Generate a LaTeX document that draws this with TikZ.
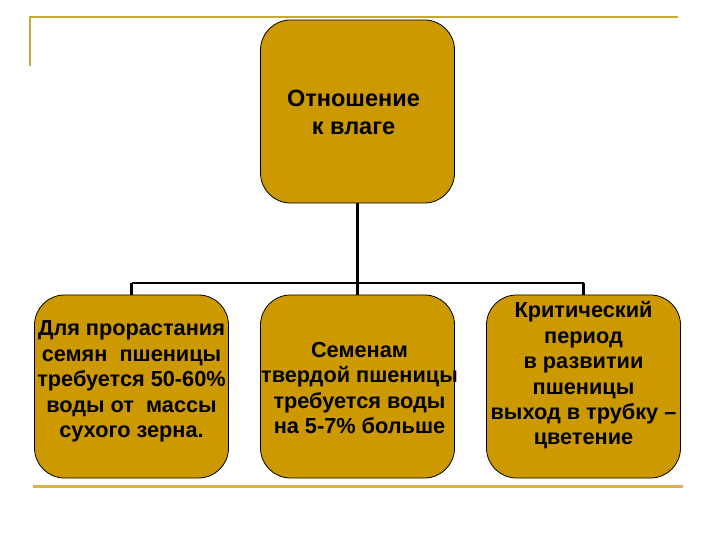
\documentclass[tikz,border=0pt]{standalone}
\usepackage{fontspec}
\setmainfont{Liberation Sans}
\definecolor{boxgold}{HTML}{CC9900}
\definecolor{topline}{HTML}{C4A838}
\definecolor{footline}{HTML}{E0B050}
\begin{document}
\begin{tikzpicture}[x=1bp, y=-1bp,
	box/.style={draw, fill=boxgold, line width=0.8bp, rounded corners=30bp, minimum width=194bp, minimum height=183bp},
	txt/.style={font=\bfseries\fontsize{21.8}{25.5}\selectfont, align=center, inner sep=0pt},
	link/.style={line width=2.2bp}]
		\useasboundingbox (0,0) rectangle (720,540);
		
		%frame lines
		\draw[topline, line width=2bp] (29.5,66) -- (29.5,17.5) -- (678,17.5);
		\draw[footline, line width=3bp] (33,486) -- (683,486);
		
		%boxes
		\node[box] (top) at (357.5,111.5) {};
		\node[box] (left) at (131.5,386.5) {};
		\node[box] (mid) at (357.5,386.5) {};
		\node[box] (right) at (583.5,386.5) {};
		
		%connectors
		\coordinate (hub) at (357.5,283);
		\draw[link] (top.south) -- (hub);
		\draw[link] (left.north |- hub) -- (right.north |- hub);
		\foreach \b in {left, mid, right}{
			\draw[link] (\b.north |- hub) -- (\b.north);
		}
		
		%texts
		\node[txt, font=\bfseries\fontsize{23.6}{28}\selectfont] (toptxt) at ([xshift=-4bp, yshift=-1bp]top.center) {Отношение\\к влаге};
		\node[txt] (lefttxt) at ([yshift=5bp]left.center) {Для прорастания\\семян\ \ пшеницы\\требуется 50-60\%\\воды от\ \ массы\\сухого зерна.};
		\node[txt] (midtxt) at ([xshift=2bp, yshift=-1.5bp]mid.center) {Семенам\\твердой пшеницы\\требуется воды\\на 5-7\% больше};
		\node[txt] (righttxt) at ([yshift=11bp]right.center) {Критический\\период\\в развитии\\пшеницы\\выход в трубку –\\цветение};
\end{tikzpicture}
\end{document}
